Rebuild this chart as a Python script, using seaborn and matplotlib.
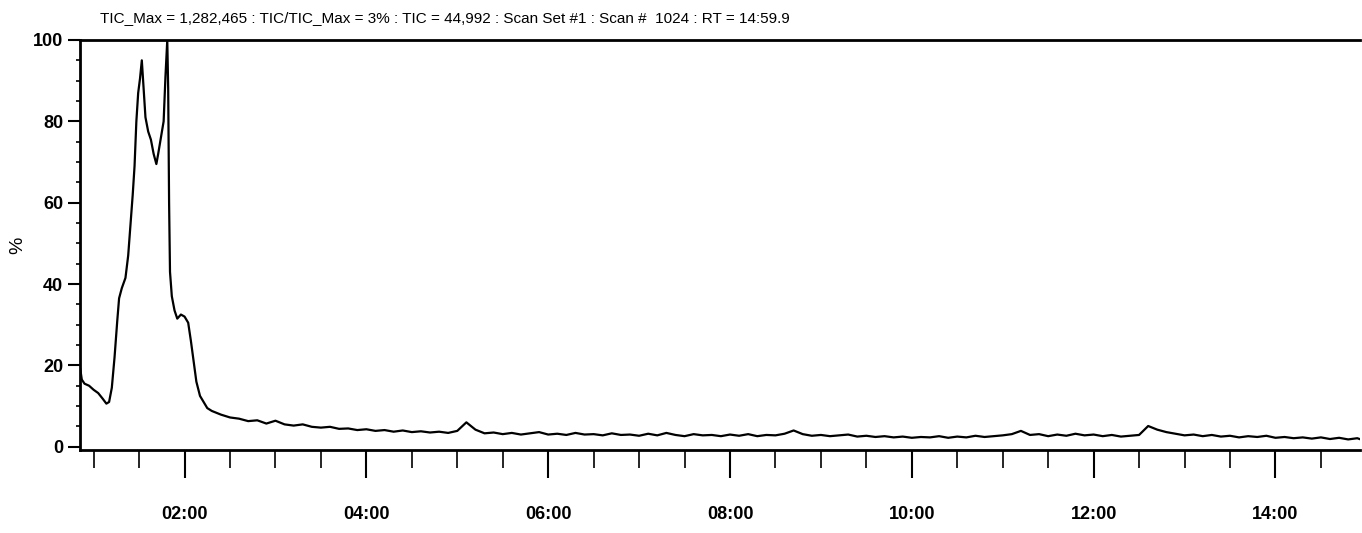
import matplotlib
matplotlib.use("Agg")
import matplotlib.pyplot as plt
import matplotlib.ticker as ticker
import seaborn as sns
import pandas as pd

# Data: retention time (min) and relative intensity (%)
peak_time = [0.85, 0.87, 0.90, 0.95, 1.00, 1.05, 1.10, 1.14, 1.17, 1.20,
             1.23, 1.26, 1.28, 1.31, 1.35, 1.38, 1.41, 1.43, 1.45, 1.47,
             1.49, 1.51, 1.53, 1.55, 1.57, 1.60, 1.63, 1.66, 1.69, 1.71,
             1.74, 1.77, 1.79, 1.81, 1.82, 1.83, 1.84, 1.86, 1.89, 1.92,
             1.96, 2.00, 2.04, 2.07, 2.10, 2.13, 2.17, 2.21, 2.25]
peak_value = [19.5, 16.5, 15.5, 15.0, 14.0, 13.2, 11.8, 10.6, 11.0, 14.5,
              22.0, 31.0, 36.5, 39.0, 41.5, 47.0, 56.0, 62.0, 69.0, 80.0,
              87.0, 90.5, 95.0, 88.0, 81.0, 77.5, 75.5, 72.0, 69.5, 72.0,
              76.0, 80.0, 91.0, 100.0, 88.0, 60.0, 43.0, 37.0, 33.5, 31.5,
              32.5, 32.0, 30.5, 26.0, 21.0, 16.0, 12.5, 11.0, 9.5]

tail_time = [2.3, 2.4, 2.5, 2.6, 2.7, 2.8, 2.9, 3.0, 3.1, 3.2,
             3.3, 3.4, 3.5, 3.6, 3.7, 3.8, 3.9, 4.0, 4.1, 4.2,
             4.3, 4.4, 4.5, 4.6, 4.7, 4.8, 4.9, 5.0, 5.1, 5.2,
             5.3, 5.4, 5.5, 5.6, 5.7, 5.8, 5.9, 6.0, 6.1, 6.2,
             6.3, 6.4, 6.5, 6.6, 6.7, 6.8, 6.9, 7.0, 7.1, 7.2,
             7.3, 7.4, 7.5, 7.6, 7.7, 7.8, 7.9, 8.0, 8.1, 8.2,
             8.3, 8.4, 8.5, 8.6, 8.7, 8.8, 8.9, 9.0, 9.1, 9.2,
             9.3, 9.4, 9.5, 9.6, 9.7, 9.8, 9.9, 10.0, 10.1, 10.2,
             10.3, 10.4, 10.5, 10.6, 10.7, 10.8, 10.9, 11.0, 11.1, 11.2,
             11.3, 11.4, 11.5, 11.6, 11.7, 11.8, 11.9, 12.0, 12.1, 12.2,
             12.3, 12.4, 12.5, 12.6, 12.7, 12.8, 12.9, 13.0, 13.1, 13.2,
             13.3, 13.4, 13.5, 13.6, 13.7, 13.8, 13.9, 14.0, 14.1, 14.2,
             14.3, 14.4, 14.5, 14.6, 14.7, 14.8, 14.9, 14.95]
tail_value = [8.8, 7.9, 7.2, 6.9, 6.3, 6.5, 5.7, 6.4, 5.5, 5.2,
              5.5, 4.9, 4.7, 4.9, 4.4, 4.5, 4.1, 4.3, 3.9, 4.1,
              3.7, 4.0, 3.6, 3.8, 3.5, 3.7, 3.4, 3.9, 6.0, 4.2,
              3.3, 3.5, 3.1, 3.4, 3.0, 3.3, 3.6, 3.0, 3.2, 2.9,
              3.4, 3.0, 3.1, 2.8, 3.3, 2.9, 3.0, 2.7, 3.2, 2.8,
              3.4, 2.9, 2.6, 3.1, 2.8, 2.9, 2.6, 3.0, 2.7, 3.1,
              2.6, 2.9, 2.8, 3.2, 4.0, 3.1, 2.7, 2.9, 2.6, 2.8,
              3.0, 2.5, 2.7, 2.4, 2.6, 2.3, 2.5, 2.2, 2.4, 2.3,
              2.6, 2.2, 2.5, 2.3, 2.7, 2.4, 2.6, 2.8, 3.1, 3.9,
              2.9, 3.1, 2.6, 3.0, 2.7, 3.2, 2.8, 3.0, 2.6, 2.9,
              2.5, 2.7, 2.9, 5.1, 4.2, 3.6, 3.2, 2.8, 3.0, 2.6,
              2.9, 2.5, 2.7, 2.3, 2.6, 2.4, 2.7, 2.2, 2.4, 2.1,
              2.3, 2.0, 2.3, 1.9, 2.2, 1.8, 2.1, 1.7]

title = ("TIC_Max = 1,282,465 : TIC/TIC_Max = 3% : TIC = 44,992 : "
         "Scan Set #1 : Scan #  1024 : RT = 14:59.9")
y_ticks = [0, 20, 40, 60, 80, 100]
x_ticks = [2, 4, 6, 8, 10, 12, 14]

df = pd.DataFrame({"RT": peak_time + tail_time, "Intensity": peak_value + tail_value})

sns.set_theme(style="ticks")
plt.rcParams['font.family'] = ['Liberation Sans', 'DejaVu Sans']
plt.rcParams['text.color'] = 'black'
plt.rcParams['xtick.labelcolor'] = 'black'
plt.rcParams['ytick.labelcolor'] = 'black'

fig = plt.figure(figsize=(13.62, 5.33), dpi=100)
ax = fig.add_axes([80 / 1362, 1 - 450 / 533, (1360 - 80) / 1362, (450 - 40) / 533])

sns.lineplot(data=df, x="RT", y="Intensity", ax=ax, color="black",
             linewidth=1.6, estimator=None, sort=False)

ax.set_xlim(0.85, 14.93)
ax.set_ylim(-0.8, 100)
ax.set_xticks(x_ticks)
ax.xaxis.set_major_formatter(ticker.FuncFormatter(lambda x, _: f"{int(round(x)):02d}:00"))
ax.xaxis.set_minor_locator(ticker.MultipleLocator(0.5))
ax.set_yticks(y_ticks)
ax.yaxis.set_minor_locator(ticker.MultipleLocator(5))

ax.tick_params(axis="x", which="major", length=20, width=1.5, pad=20, labelsize=13, color="black")
ax.tick_params(axis="x", which="minor", length=13, width=1.2, color="black")
ax.tick_params(axis="y", which="major", length=9, width=1.5, pad=3, labelsize=13, color="black")
ax.tick_params(axis="y", which="minor", length=3, width=1.2, color="black")
for lab in ax.get_xticklabels() + ax.get_yticklabels():
    lab.set_fontweight("bold")

for side in ["left", "bottom", "top"]:
    ax.spines[side].set_color("black")
    ax.spines[side].set_linewidth(2)
ax.spines["right"].set_visible(False)

ax.set_xlabel("")
ax.set_ylabel("")
fig.text(18 / 1362, 1 - 245 / 533, "%", rotation=90, ha="center", va="center", fontsize=14)
fig.text(100 / 1362, 1 - 18 / 533, title, ha="left", va="center", fontsize=11)

fig.savefig("out.png", dpi=100)
